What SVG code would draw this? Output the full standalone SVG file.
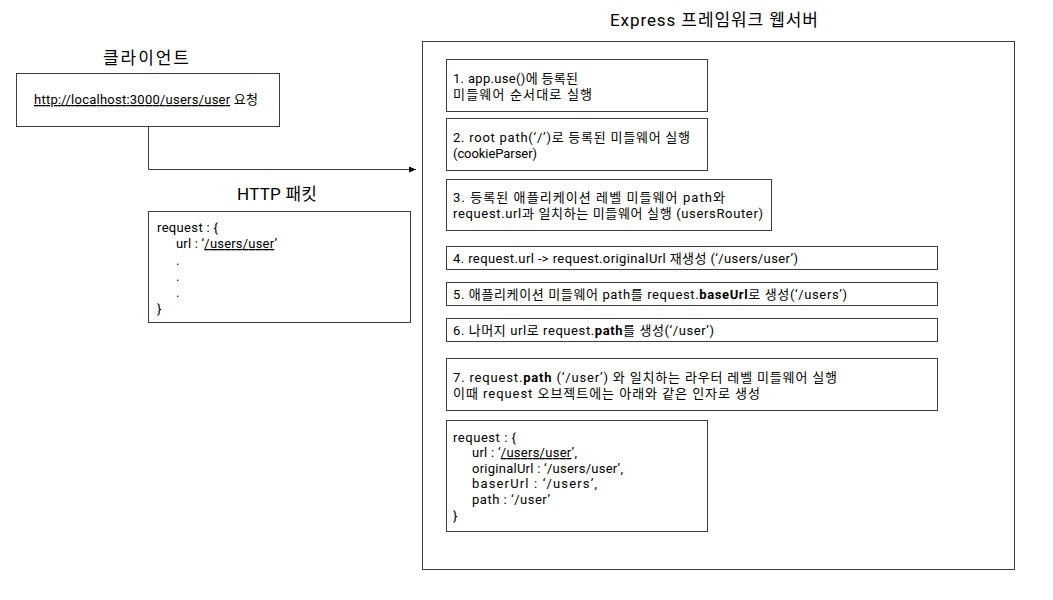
<svg xmlns="http://www.w3.org/2000/svg" width="1053" height="600" viewBox="0 0 1053 600">
<style>
text{font-family:Roboto,"Noto Sans CJK KR",sans-serif;fill:#000;}
.t{font-size:13px;}
.h{font-size:17px;}
.b{fill:#fff;stroke:#3c3c3c;stroke-width:1;}
.u{text-decoration:underline;}
.bold{font-weight:bold;}
</style>
<defs>
<marker id="arr" markerWidth="8" markerHeight="8" refX="7" refY="4" orient="auto" markerUnits="userSpaceOnUse">
<path d="M0,1 L7,4 L0,7 Z" fill="#000"/>
</marker>
</defs>
<rect width="1053" height="600" fill="#fff"/>
<g id="client">
<text class="h" x="103" y="64" textLength="86" lengthAdjust="spacing">클라이언트</text>
<rect class="b" x="16.5" y="73.5" width="263" height="53"/>
<text class="t" x="34" y="104" textLength="224" lengthAdjust="spacing"><tspan class="u">http://localhost:3000/users/user</tspan> 요청</text>
</g>
<g id="packet">
<text class="h" x="237" y="200" textLength="80" lengthAdjust="spacing">HTTP 패킷</text>
<rect class="b" x="148.5" y="211.5" width="262" height="111"/>
<text class="t" x="157" y="232" textLength="61" lengthAdjust="spacing">request : {</text>
<text class="t" x="176" y="248" textLength="101" lengthAdjust="spacing">url : ‘<tspan class="u">/users/user</tspan>’</text>
<text class="t" x="176" y="265">.</text>
<text class="t" x="176" y="281">.</text>
<text class="t" x="176" y="297">.</text>
<text class="t" x="157" y="313">}</text>
</g>
<g id="server">
<text class="h" x="610" y="26" textLength="208" lengthAdjust="spacing">Express 프레임워크 웹서버</text>
<rect class="b" x="422.5" y="41.5" width="592" height="528"/>
</g>
<g id="step1">
<rect class="b" x="446.5" y="59.5" width="261" height="52"/>
<text class="t" x="453" y="83" textLength="125" lengthAdjust="spacing">1. app.use()에 등록된</text>
<text class="t" x="453" y="99" textLength="139" lengthAdjust="spacing">미들웨어 순서대로 실행</text>
</g>
<g id="step2">
<rect class="b" x="446.5" y="118.5" width="261" height="52"/>
<text class="t" x="453" y="142" textLength="237" lengthAdjust="spacing">2. root path(‘/’)로 등록된 미들웨어 실행</text>
<text class="t" x="453" y="158" textLength="84" lengthAdjust="spacing">(cookieParser)</text>
</g>
<g id="step3">
<rect class="b" x="446.5" y="179.5" width="325" height="51"/>
<text class="t" x="453" y="202" textLength="272" lengthAdjust="spacing">3. 등록된 애플리케이션 레벨 미들웨어 path와</text>
<text class="t" x="453" y="218" textLength="310" lengthAdjust="spacing">request.url과 일치하는 미들웨어 실행 (usersRouter)</text>
</g>
<g id="step4">
<rect class="b" x="446.5" y="246.5" width="491" height="23"/>
<text class="t" x="453" y="263" textLength="345" lengthAdjust="spacing">4. request.url -&gt; request.originalUrl 재생성 (‘/users/user’)</text>
</g>
<g id="step5">
<rect class="b" x="446.5" y="282.5" width="491" height="23"/>
<text class="t" x="453" y="299" textLength="394" lengthAdjust="spacing">5. 애플리케이션 미들웨어 path를 request.<tspan class="bold">baseUrl</tspan>로 생성(‘/users’)</text>
</g>
<g id="step6">
<rect class="b" x="446.5" y="318.5" width="491" height="23"/>
<text class="t" x="453" y="335" textLength="261" lengthAdjust="spacing">6. 나머지 url로 request.<tspan class="bold">path</tspan>를 생성(‘/user’)</text>
</g>
<g id="step7">
<rect class="b" x="446.5" y="358.5" width="491" height="52"/>
<text class="t" x="453" y="382" textLength="384" lengthAdjust="spacing">7. request.<tspan class="bold">path</tspan> (‘/user’) 와 일치하는 라우터 레벨 미들웨어 실행</text>
<text class="t" x="453" y="398" textLength="307" lengthAdjust="spacing">이때 request 오브젝트에는 아래와 같은 인자로 생성</text>
</g>
<g id="request">
<rect class="b" x="446.5" y="420.5" width="261" height="111"/>
<text class="t" x="453" y="442" textLength="63" lengthAdjust="spacing">request : {</text>
<text class="t" x="472" y="457" textLength="105" lengthAdjust="spacing">url : ‘<tspan class="u">/users/user</tspan>’,</text>
<text class="t" x="472" y="473" textLength="151" lengthAdjust="spacing">originalUrl : ‘/users/user’,</text>
<text class="t" x="472" y="488" textLength="125" lengthAdjust="spacing">baserUrl : ‘/users’,</text>
<text class="t" x="472" y="504" textLength="78" lengthAdjust="spacing">path : ‘/user’</text>
<text class="t" x="453" y="520">}</text>
</g>
<g id="connectors">
<path d="M148.5,127 V169.5 H416" fill="none" stroke="#3c3c3c" stroke-width="1" marker-end="url(#arr)"/>
</g>
</svg>
